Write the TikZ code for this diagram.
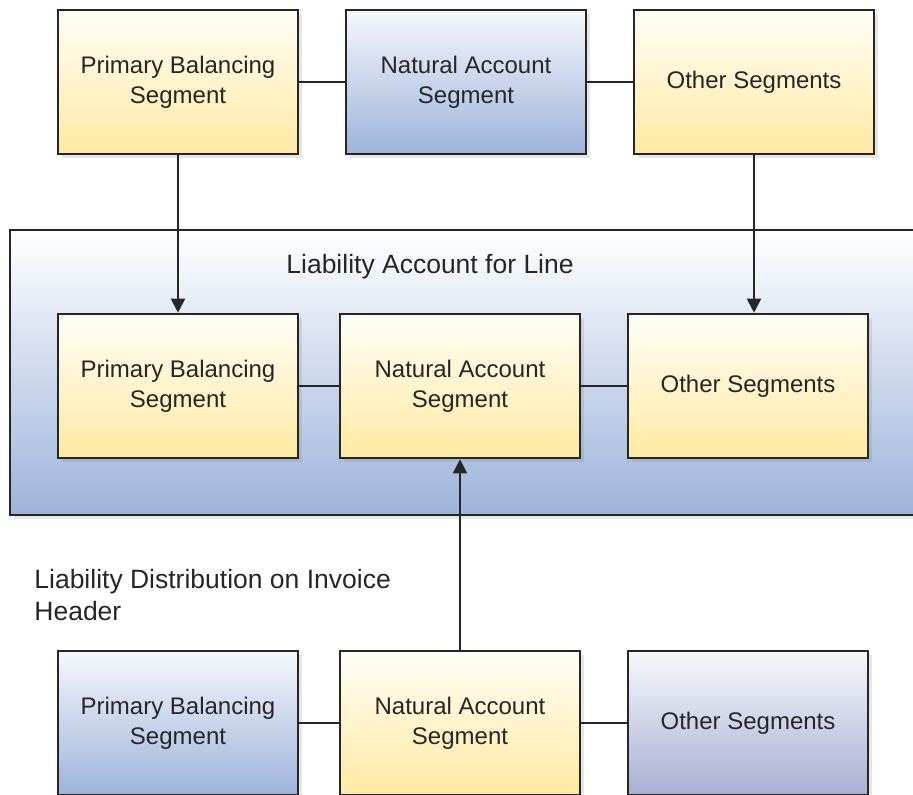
\documentclass[tikz,border=0pt]{standalone}
\usepackage{fontspec}
\setmainfont{Liberation Sans}
\usetikzlibrary{arrows.meta,shadows}

\definecolor{ylwTop}{HTML}{FFFEF7}
\definecolor{ylwBot}{HTML}{FFE9A2}
\definecolor{bluTop}{HTML}{F5F7FC}
\definecolor{bluBot}{HTML}{9DB3DB}
\definecolor{lavTop}{HTML}{F7F8FB}
\definecolor{lavBot}{HTML}{A8AFD4}
\definecolor{inkGray}{HTML}{262626}

\begin{document}
\begin{tikzpicture}[x=0.5pt,y=-0.5pt,
    segment/.style ={rectangle, draw=inkGray, line width=1.3pt, minimum width=120pt, minimum height=72pt,
      align=center, text=inkGray, font=\fontsize{12}{15}\selectfont,
      drop shadow={shadow xshift=2pt, shadow yshift=-2pt, opacity=0.2}},
    yellowseg/.style ={segment, top color=ylwTop, bottom color=ylwBot},
    blueseg/.style ={segment, top color=bluTop, bottom color=bluBot},
    lavseg/.style ={segment, top color=lavTop, bottom color=lavBot},
    caption/.style ={inner sep=0pt, text=inkGray, font=\fontsize{13.25}{16}\selectfont, align=left},
    link/.style ={line width=1pt, draw=inkGray},
    feed/.style ={link, -{Triangle[length=7pt,width=7pt]}}]
   \clip (0,0) rectangle (913,794);
   % outer box for the line account
   \node[rectangle, draw=inkGray, line width=1.3pt, minimum width=460pt, minimum height=142.5pt,
     top color=white, bottom color=bluBot, drop shadow={shadow xshift=2pt, shadow yshift=-2pt, opacity=0.2}]
     (L) at (470,372.5) {};
   \node[caption, anchor=base west] (LL) at (286,273) {Liability Account for Line};
   \node[caption, anchor=base west] (LD) at (34,620) {Liability Distribution on Invoice\\Header};
   % top row
   \node[yellowseg] (P1) at (178,82) {Primary Balancing\\Segment};
   \node[blueseg]   (N1) at (466,82) {Natural Account\\Segment};
   \node[yellowseg] (O1) at (754,82) {Other Segments};
   % middle row
   \node[yellowseg] (P2) at (178,386) {Primary Balancing\\Segment};
   \node[yellowseg] (N2) at (460,386) {Natural Account\\Segment};
   \node[yellowseg] (O2) at (748,386) {Other Segments};
   % bottom row
   \node[blueseg]   (P3) at (178,723) {Primary Balancing\\Segment};
   \node[yellowseg] (N3) at (460,723) {Natural Account\\Segment};
   \node[lavseg]    (O3) at (748,723) {Other Segments};
   \draw[link] (P1) -- (N1);
   \draw[link] (N1) -- (O1);
   \draw[link] (P2) -- (N2);
   \draw[link] (N2) -- (O2);
   \draw[link] (P3) -- (N3);
   \draw[link] (N3) -- (O3);
   \draw[feed] (P1.south) -- (P1.south |- P2.north);
   \draw[feed] (O1.south) -- (O1.south |- O2.north);
   \draw[feed] (N3.north) -- (N2.south);
 \end{tikzpicture}
\end{document}
